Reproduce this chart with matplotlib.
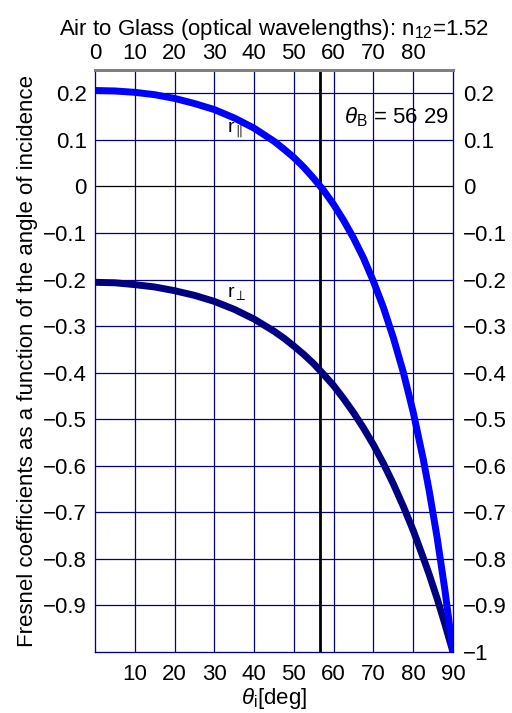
import numpy as np
import matplotlib
matplotlib.use("Agg")
from matplotlib import pyplot as plt

plt.rcParams['font.family'] = ['Liberation Sans', 'DejaVu Sans']
plt.rcParams['mathtext.fontset'] = 'custom'
plt.rcParams['mathtext.rm'] = 'Liberation Sans'
plt.rcParams['mathtext.it'] = 'Liberation Sans:italic'

# angle of incidence [deg] and coefficients
theta = [0, 5, 10, 15, 20, 25, 30, 35, 40, 45, 47.5, 50, 52.5, 55, 57.5, 60, 62.5, 65, 67.5,
         70, 72.5, 75, 77.5, 80, 82.5, 84, 86, 88, 90]
r_par = [0.206, 0.205, 0.202, 0.197, 0.189, 0.178, 0.165, 0.147, 0.125, 0.097, 0.080, 0.062,
         0.041, 0.017, -0.009, -0.039, -0.073, -0.111, -0.154, -0.204, -0.260, -0.325,
         -0.399, -0.485, -0.585, -0.653, -0.754, -0.869, -1.0]
r_perp = [-0.206, -0.207, -0.211, -0.216, -0.224, -0.234, -0.247, -0.264, -0.285, -0.311,
          -0.326, -0.343, -0.361, -0.381, -0.404, -0.428, -0.456, -0.486, -0.519, -0.555,
          -0.595, -0.639, -0.687, -0.739, -0.797, -0.833, -0.885, -0.941, -1.0]
theta_b = 56.66

top_ticks = [0, 10, 20, 30, 40, 50, 60, 70, 80]
bottom_ticks = [10, 20, 30, 40, 50, 60, 70, 80, 90]
left_ticks = [0.2, 0.1, 0, -0.1, -0.2, -0.3, -0.4, -0.5, -0.6, -0.7, -0.8, -0.9]
right_ticks = left_ticks + [-1]

navy = '#00008b'
fs = 16

def fmt(v):
    return ('%g' % v).replace('-', '\u2212')

fig = plt.figure(figsize=(5.12, 7.13), dpi=100)
ax = fig.add_axes([95/512, 61/713, 358/512, 582/713])

for v in bottom_ticks[:-1]:
    ax.axvline(v, color=navy, lw=0.9, zorder=1)
for v in left_ticks:
    ax.axhline(v, color='black' if v == 0 else navy, lw=0.9, zorder=1)
ax.axvline(theta_b, color='black', lw=2, zorder=2)

ax.plot(theta, r_perp, color='#000080', lw=5, zorder=3)
ax.plot(theta, r_par, color='#0000ff', lw=5, zorder=4)

ax.set_xlim(0, 90)
ax.set_ylim(-1, 0.25)
ax.set_xticks(bottom_ticks)
ax.set_xticklabels([fmt(v) for v in bottom_ticks])
ax.set_yticks(left_ticks)
ax.set_yticklabels([fmt(v) for v in left_ticks])
ax.tick_params(axis='x', length=0, labelsize=fs, pad=9)
ax.tick_params(axis='y', length=0, labelsize=fs, pad=6)
ax.set_xlabel(r'$\theta_{\rm i}$[deg]', fontsize=fs, labelpad=0.5)
ax.set_ylabel('Fresnel coefficients as a function of the angle of incidence', fontsize=fs, labelpad=3)

axt = ax.twiny()
axt.set_xlim(0, 90)
axt.set_xticks(top_ticks)
axt.set_xticklabels([fmt(v) for v in top_ticks])
axt.tick_params(length=0, labelsize=fs, pad=4)
axt.set_title('Air to Glass (optical wavelengths): n$_{12}$=1.52', fontsize=fs, pad=6)

axr = ax.twinx()
axr.set_ylim(-1, 0.25)
axr.set_yticks(right_ticks)
axr.set_yticklabels([fmt(v) for v in right_ticks])
axr.tick_params(length=0, labelsize=fs, pad=7)

for a in (ax, axt, axr):
    for s in ['left', 'right', 'bottom']:
        a.spines[s].set_color(navy)
    a.spines['top'].set_color('#808080')
    a.spines['top'].set_linewidth(2)

ax.text(89, 0.148, r'$\theta_{\rm B}$ = 56 29', fontsize=fs, ha='right', va='center', zorder=5)
ax.text(33.2, 0.122, r'r$_{\parallel}$', fontsize=14, ha='left', va='center', zorder=5)
ax.text(33.2, -0.228, r'r$_{\perp}$', fontsize=14, ha='left', va='center', zorder=5)

fig.savefig('out.png', dpi=100)
